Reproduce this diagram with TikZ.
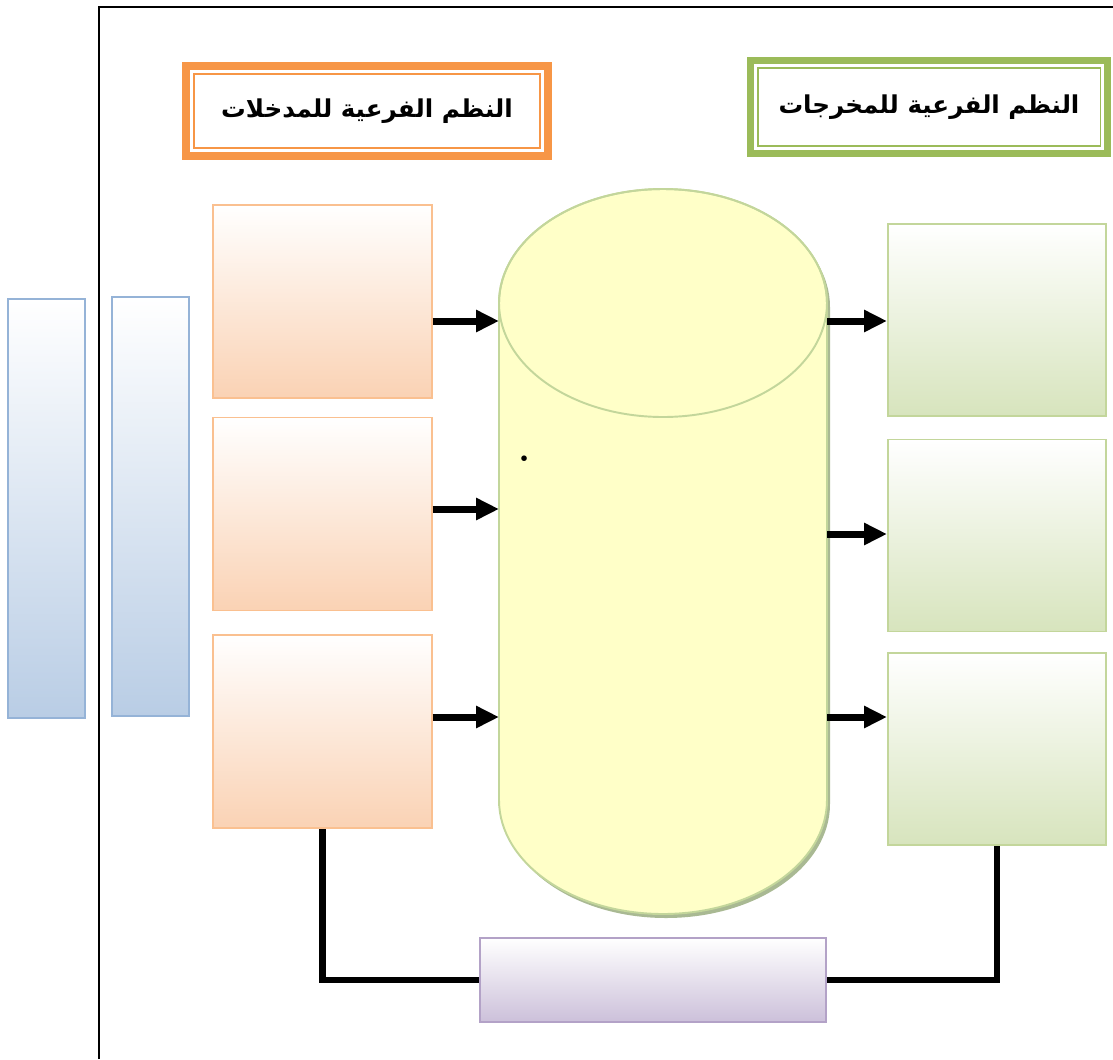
\documentclass[tikz,border=0pt]{standalone}
\usepackage{fontspec}
\usepackage{tikz}
\usetikzlibrary{positioning,arrows.meta}
\TeXXeTstate=1
\newfontfamily\arabicfont[Script=Arabic]{DejaVu Sans}
\definecolor{orangeT}{HTML}{F79646}
\definecolor{greenT}{HTML}{9BBB59}
\definecolor{peachL}{HTML}{FAC090}
\definecolor{peachF}{HTML}{FAD2B4}
\definecolor{greenL}{HTML}{C3D69B}
\definecolor{greenF}{HTML}{D7E4BD}
\definecolor{blueL}{HTML}{95B3D7}
\definecolor{blueF}{HTML}{B9CDE5}
\definecolor{purpL}{HTML}{B3A2C7}
\definecolor{purpF}{HTML}{CCC0DA}
\definecolor{cylF}{HTML}{FFFFC8}
\definecolor{cylS}{HTML}{A9B993}
\def\BoxW{4.38cm}
\def\BoxH{3.86cm}
\def\BarW{1.54cm}
\def\BarH{8.38cm}
\tikzset{
	inbox/.style={draw=peachL, line width=1pt, top color=white, bottom color=peachF, minimum width=\BoxW, minimum height=\BoxH, inner sep=0pt},
	outbox/.style={draw=greenL, line width=1pt, top color=white, bottom color=greenF, minimum width=4.36cm, minimum height=3.84cm, inner sep=0pt},
	bar/.style={draw=blueL, line width=1pt, top color=white, bottom color=blueF, minimum width=\BarW, minimum height=\BarH, inner sep=0pt},
	titlebox/.style={fill=white, inner sep=0pt, font=\arabicfont\bfseries\fontsize{14}{17}\selectfont},
	flow/.style={line width=0.14cm, -{Triangle[length=0.46cm,width=0.42cm]}},
	link/.style={line width=0.13cm},
}

\begin{document}
\begin{tikzpicture}[x=0.02cm,y=-0.02cm]
	\useasboundingbox (0,0) rectangle (1113,1059);
	\draw[line width=1.2pt] (99,1059) -- (99,7) -- (1113,7);
	% 
	\node[titlebox, draw=orangeT, line width=0.16cm, minimum width=7.24cm, minimum height=1.8cm] (tin) at (367,111) {\beginR النظم الفرعية للمدخلات\endR};
	\draw[orangeT, line width=1.1pt] ([shift={(0.24cm,-0.24cm)}]tin.north west) rectangle ([shift={(-0.24cm,0.24cm)}]tin.south east);
	\node[titlebox, draw=greenT, line width=0.14cm, minimum width=7.16cm, minimum height=1.86cm] (tout) at (929,107) {\beginR النظم الفرعية للمخرجات\endR};
	\draw[greenT, line width=1.1pt] ([shift={(0.22cm,-0.22cm)}]tout.north west) rectangle ([shift={(-0.22cm,0.22cm)}]tout.south east);
	% 
	\node[bar, anchor=north west] (bl1) at (7,298) {};
	\node[bar, anchor=north west] (bl2) at (111,296) {};
	% 
	\node[inbox, anchor=north west] (in1) at (212,204) {};
	\node[inbox, below=0.36cm of in1] (in2) {};
	\node[inbox, below=0.46cm of in2] (in3) {};
	% 
	\node[outbox, anchor=north west] (out1) at (887,223) {};
	\node[outbox, below=0.44cm of out1] (out2) {};
	\node[outbox, below=0.4cm of out2] (out3) {};
	% 
	\fill[cylS] (502,307) -- (502,804) arc (180:0:164 and 114) -- (830,307) arc (0:-180:164 and 114) -- cycle;
	\filldraw[fill=cylF, draw=greenL, line width=1.1pt] (499,303) -- (499,800) arc (180:0:164 and 114) -- (827,303) arc (0:-180:164 and 114) -- cycle;
	\draw[greenL, line width=1.1pt] (663,303) ellipse (164 and 114);
	\coordinate (dbL) at (499,303);
	\coordinate (dbR) at (827,303);
	\node[font=\fontsize{22}{24}\selectfont\bfseries] (pt) at (525,459) {.};
	% 
	\node[draw=purpL, line width=1pt, top color=white, bottom color=purpF, minimum width=6.92cm, minimum height=1.68cm] (fb) at (653,980) {};
	% 
	\coordinate (a1) at (0,321);
	\coordinate (a2) at (0,509);
	\coordinate (a3) at (0,717);
	\coordinate (b2) at (0,534);
	\draw[flow] (in1.east |- a1) -- (dbL |- a1);
	\draw[flow] (in2.east |- a2) -- (dbL |- a2);
	\draw[flow] (in3.east |- a3) -- (dbL |- a3);
	\draw[flow] (dbR |- a1) -- (out1.west |- a1);
	\draw[flow] (dbR |- b2) -- (out2.west |- b2);
	\draw[flow] (dbR |- a3) -- (out3.west |- a3);
	% 
	\draw[link] (in3.south) |- (fb.west);
	\draw[link] (out3.south) |- (fb.east);
\end{tikzpicture}
\end{document}
